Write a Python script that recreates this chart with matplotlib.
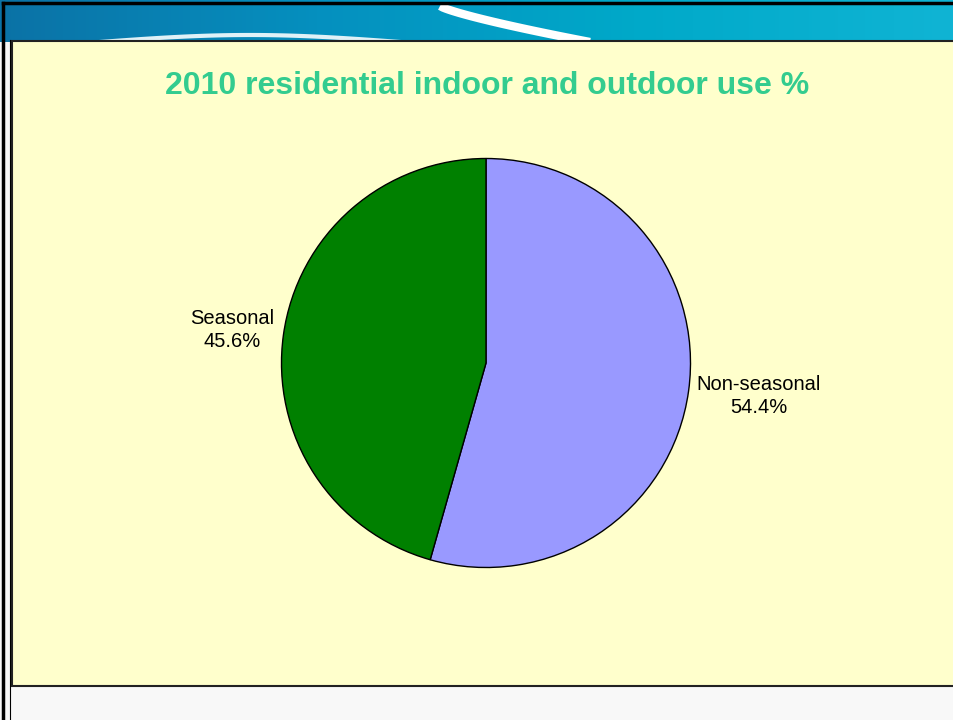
import numpy as np
import matplotlib.pyplot as plt
from matplotlib.patches import Rectangle
from matplotlib.colors import LinearSegmentedColormap

# data
categories = ["Non-seasonal", "Seasonal"]
shares = [54.4, 45.6]
colors = ["#9999ff", "#008000"]
title = "2010 residential indoor and outdoor use %"

W, H = 954, 720
fig = plt.figure(figsize=(W / 100, H / 100), dpi=100)
fig.patch.set_facecolor("#f8f8f8")

# slide background (pixel coords, y from top)
bg = fig.add_axes([0, 0, 1, 1])
bg.set_xlim(0, W)
bg.set_ylim(H, 0)
bg.axis("off")

# blue banner with a gradient
grad = np.linspace(0, 1, 256).reshape(1, -1)
cmap = LinearSegmentedColormap.from_list("banner", ["#0b72a6", "#0590bf", "#00a9c9", "#10b4d4"])
bg.imshow(grad, extent=[0, W, 42, 0], aspect="auto", cmap=cmap, zorder=0)
# white swoosh
t = np.linspace(0, 1, 50)
bg.plot(440 + 150 * t, 6 + 36 * t ** 0.8, color="white", lw=6, solid_capstyle="butt", zorder=1)
bg.plot(100 + 300 * t, 42 - 7 * np.sin(np.pi * t), color="#dff1f7", lw=3, zorder=1)

# yellow panel
bg.add_patch(Rectangle((12, 41), W, 645, facecolor="#ffffcc", edgecolor="#222222", lw=1.5, zorder=2))
# outer frame lines
bg.plot([3, 3], [3, H], color="black", lw=2.5, zorder=3)
bg.plot([3, W], [3, 3], color="black", lw=2.5, zorder=3)
bg.plot([10, 10], [40, H], color="black", lw=0.8, zorder=3)

fig.text(487 / W, 1 - 86 / H, title, ha="center", va="center", fontsize=23,
         fontweight="bold", color="#33cc8f", family="Liberation Sans")

# pie
cx, cy, r = 486, 363, 204.5
ax = fig.add_axes([(cx - r) / W, (H - cy - r) / H, 2 * r / W, 2 * r / H])
ax.pie(shares, colors=colors, startangle=90, counterclock=False, radius=1,
       wedgeprops=dict(edgecolor="black", linewidth=1))
ax.set_xlim(-1, 1)
ax.set_ylim(-1, 1)
ax.set_aspect("auto")

label_pos = [(1.335, -0.16), (-1.24, 0.16)]
for name, val, (lx, ly) in zip(categories, shares, label_pos):
    ax.text(lx, ly, f"{name}\n{val:.1f}%", ha="center", va="center", fontsize=14.5,
            family="Liberation Sans", linespacing=1.25, clip_on=False)

fig.savefig("out.png", dpi=100, facecolor=fig.get_facecolor())
